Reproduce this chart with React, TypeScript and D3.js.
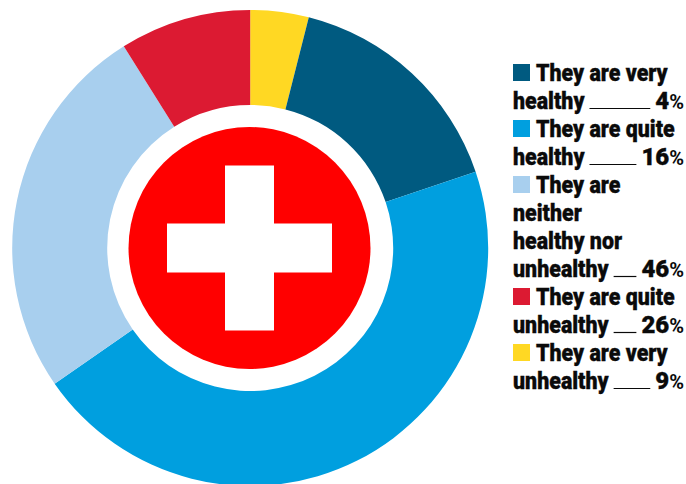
import React, { useEffect, useRef } from "react";
import * as d3 from "d3";

const categories = [
  "They are very healthy",
  "They are quite healthy",
  "They are neither healthy nor unhealthy",
  "They are quite unhealthy",
  "They are very unhealthy",
];
const values = [4, 16, 46, 26, 9];
// Ring order starts with the yellow slice at twelve o'clock, then runs clockwise
const sliceValues = [4, 16, 46, 26, 9];
const sliceColors = ["#ffd823", "#005a80", "#009fdf", "#a8cfee", "#dc1a32"];

const legendColors = ["#005a80", "#009fdf", "#a8cfee", "#dc1a32", "#ffd823"];
const legendLines = [
  ["They are very", "healthy"],
  ["They are quite", "healthy"],
  ["They are", "neither", "healthy nor", "unhealthy"],
  ["They are quite", "unhealthy"],
  ["They are very", "unhealthy"],
];

const FONT = "Roboto, sans-serif";

export default function App() {
  const ref = useRef<SVGSVGElement>(null);

  useEffect(() => {
    const svg = d3.select(ref.current);
    svg.selectAll("*").remove();

    // Donut ring, clockwise from twelve o'clock
    const ring = svg.append("g").attr("transform", "translate(250.2,248)");
    const pie = d3.pie<number>().sort(null);
    const arc = d3.arc<d3.PieArcDatum<number>>().innerRadius(143).outerRadius(238);
    ring
      .selectAll("path")
      .data(pie(sliceValues))
      .join("path")
      .attr("d", arc)
      .attr("fill", (_, i) => sliceColors[i]);

    // Swiss flag emblem in the hole
    const flag = svg.append("g").attr("transform", "translate(249.5,248)");
    flag.append("circle").attr("r", 121).attr("fill", "#ff0000");
    flag.append("rect").attr("x", -82.5).attr("y", -24.5).attr("width", 165).attr("height", 49).attr("fill", "#fff");
    flag.append("rect").attr("x", -24.5).attr("y", -82.5).attr("width", 49).attr("height", 165).attr("fill", "#fff");

    // Legend: wrapped labels with a rule running to the right-aligned value
    const legend = svg
      .append("g")
      .attr("font-family", FONT)
      .attr("font-weight", 900)
      .attr("fill", "#0a0a0a")
      .attr("stroke", "#0a0a0a")
      .attr("stroke-width", 0.35);
    const left = 513;
    const right = 684;
    const rowH = 28;
    const firstBaseline = 81;
    const squeeze = 0.93;
    let row = 0;
    legendLines.forEach((lines, i) => {
      const y0 = firstBaseline + row * rowH;
      legend
        .append("rect")
        .attr("x", left)
        .attr("y", y0 - 17)
        .attr("width", 17)
        .attr("height", 17)
        .attr("fill", legendColors[i])
        .attr("stroke", "none")
        .append("title")
        .text(categories[i]);
      lines.forEach((line, j) => {
        const y = y0 + j * rowH;
        const t = legend
          .append("text")
          .attr("x", j === 0 ? left + 23 : left)
          .attr("y", y)
          .attr("font-size", 23)
          .text(line);
        const natural = (t.node() as SVGTextElement).getComputedTextLength();
        t.attr("textLength", natural * squeeze).attr("lengthAdjust", "spacingAndGlyphs");
        if (j === lines.length - 1) {
          const v = legend
            .append("text")
            .attr("x", right)
            .attr("y", y)
            .attr("text-anchor", "end")
            .attr("font-size", 24);
          v.append("tspan").text(values[i]);
          v.append("tspan").attr("font-size", 20).attr("font-weight", 700).attr("stroke", "none").text("%");
          const vw = (v.node() as SVGTextElement).getComputedTextLength();
          legend
            .append("line")
            .attr("x1", left + natural * squeeze + 5)
            .attr("x2", right - vw - 5)
            .attr("y1", y - 0.5)
            .attr("y2", y - 0.5)
            .attr("stroke-width", 1.2);
        }
      });
      row += lines.length;
    });
  }, []);

  return (
    <svg
      ref={ref}
      width={686}
      height={484}
      style={{ position: "absolute", left: 0, top: 0, background: "#fff" }}
    />
  );
}
